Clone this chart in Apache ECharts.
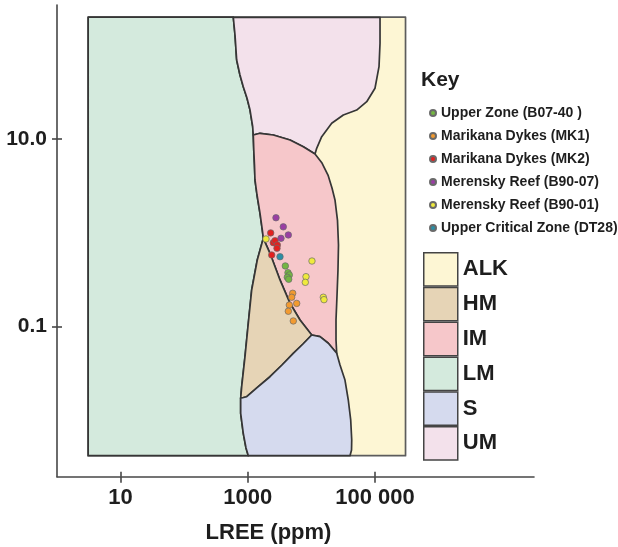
<!DOCTYPE html>
<html>
<head>
<meta charset="utf-8">
<title>Sr/Y vs LREE discrimination diagram</title>
<script src="https://cdn.jsdelivr.net/npm/echarts@6/dist/echarts.min.js"></script>
<style>
  html, body { margin: 0; padding: 0; background: #ffffff; }
  #chart { width: 618px; height: 547px; }
</style>
</head>
<body>
<div id="chart"></div>
<script>
// ---- Axis ticks (raw values) and their printed labels ----
const lreeTicks = [10, 1000, 100000];
const lreeTickLabels = ['10', '1000', '100 000'];
const sryTicks = [0.1, 10];
const sryTickLabels = ['0.1', '10.0'];

// ---- Samples: [LREE (ppm), Sr/Y] ----
const upperZoneB0740 = [[3890, 0.444], [4285, 0.376], [4490, 0.356], [4180, 0.336], [4395, 0.320]];
const marikanaMK1 = [[5082, 0.227], [4898, 0.206], [5873, 0.177], [4490, 0.170], [4335, 0.146], [5190, 0.115]];
const marikanaMK2 = [[2291, 1.0], [2518, 0.786], [2679, 0.826], [2911, 0.743], [2878, 0.685], [2377, 0.581]];
const merenskyB9007 = [[2773, 1.45], [3614, 1.16], [4335, 0.95], [3327, 0.875]];
const merenskyB9001 = [[1932, 0.861], [10210, 0.501], [8222, 0.341], [8020, 0.297], [15390, 0.206], [15780, 0.194]];
const upperCriticalDT28 = [[3208, 0.557]];

// ---- Field outlines, vertices as [log10 LREE, log10 Sr/Y] ----
const plotFrame = [[0.49, 2.30], [5.48, 2.30], [5.48, -2.376], [0.49, -2.376]];
const lmField = [
  [0.49, 2.30], [2.772, 2.30], [2.799, 2.110], [2.825, 1.844], [2.877, 1.684], [2.929, 1.559],
  [2.987, 1.438], [3.035, 1.310], [3.077, 1.132], [3.086, 1.044], [3.094, 0.884], [3.105, 0.724],
  [3.113, 0.564], [3.145, 0.404], [3.192, 0.209], [3.228, 0.031], [3.244, -0.058], [3.149, -0.289],
  [3.061, -0.609], [3.008, -0.964], [2.956, -1.320], [2.904, -1.640], [2.888, -1.764], [2.888, -1.924],
  [2.929, -2.137], [2.972, -2.294], [3.008, -2.376], [0.49, -2.376]
];
const umField = [
  [2.772, 2.299], [5.079, 2.299], [5.079, 2.022], [5.063, 1.772], [5.0, 1.542], [4.870, 1.399],
  [4.712, 1.310], [4.502, 1.257], [4.319, 1.169], [4.162, 1.026], [4.083, 0.902], [4.057, 0.841],
  [3.873, 0.919], [3.664, 0.990], [3.401, 1.044], [3.192, 1.062], [3.086, 1.044], [3.077, 1.132],
  [3.035, 1.310], [2.987, 1.438], [2.929, 1.559], [2.877, 1.684], [2.825, 1.844], [2.799, 2.110]
];
const imField = [
  [3.086, 1.044], [3.192, 1.062], [3.401, 1.044], [3.664, 0.990], [3.873, 0.919], [4.057, 0.841],
  [4.167, 0.745], [4.261, 0.617], [4.324, 0.479], [4.371, 0.351], [4.410, 0.137], [4.426, -0.129],
  [4.418, -0.396], [4.403, -0.662], [4.387, -0.929], [4.387, -1.142], [4.398, -1.284], [4.266, -1.177],
  [4.135, -1.107], [4.005, -1.089], [3.821, -0.929], [3.664, -0.751], [3.506, -0.502], [3.349, -0.218],
  [3.244, -0.058], [3.228, 0.031], [3.192, 0.209], [3.145, 0.404], [3.113, 0.564], [3.105, 0.724],
  [3.094, 0.884]
];
const hmField = [
  [3.244, -0.058], [3.349, -0.218], [3.506, -0.502], [3.664, -0.751], [3.821, -0.929], [4.005, -1.089],
  [3.868, -1.185], [3.715, -1.284], [3.538, -1.409], [3.349, -1.534], [3.160, -1.643], [2.983, -1.747],
  [2.888, -1.764], [2.904, -1.640], [2.956, -1.320], [3.008, -0.964], [3.061, -0.609], [3.149, -0.289]
];
const sField = [
  [2.888, -1.764], [2.983, -1.747], [3.160, -1.643], [3.349, -1.534], [3.538, -1.409], [3.715, -1.284],
  [3.868, -1.185], [4.005, -1.089], [4.135, -1.107], [4.266, -1.177], [4.398, -1.284], [4.450, -1.409],
  [4.528, -1.569], [4.580, -1.782], [4.618, -1.995], [4.634, -2.209], [4.631, -2.315], [4.607, -2.376],
  [3.008, -2.376], [2.972, -2.294], [2.929, -2.137], [2.888, -1.924]
];

const FONT = "'Liberation Sans', Arial, Helvetica, sans-serif";
const EDGE = '#363636';
const TEXT = '#1e1e1e';

const fieldColors = {
  ALK: '#fdf6d4',
  HM: '#e6d4b6',
  IM: '#f6c7ca',
  LM: '#d4eadd',
  S: '#d5daee',
  UM: '#f3e1eb'
};

function toLog(pairs) {
  return pairs.map(p => [Math.log10(p[0]), Math.log10(p[1])]);
}

function tickLabel(ticks, labels) {
  return function (v) {
    for (let i = 0; i < ticks.length; i++) {
      if (Math.abs(Math.log10(ticks[i]) - v) < 1e-6) return labels[i];
    }
    return '';
  };
}

function fieldSeries(name, outline, stroke, z) {
  const fill = fieldColors[name];
  return {
    type: 'custom',
    name: name,
    coordinateSystem: 'cartesian2d',
    silent: true,
    z: z,
    itemStyle: { color: fill, borderColor: '#444', borderWidth: 1.5 },
    data: outline,
    renderItem: function (params, api) {
      if (params.dataIndex !== 0) return null;
      return {
        type: 'polygon',
        shape: { points: outline.map(p => api.coord(p)) },
        style: { fill: fill, stroke: stroke, lineWidth: 1.7, lineJoin: 'round' }
      };
    }
  };
}

function sampleSeries(name, values, color) {
  return {
    type: 'scatter',
    name: name,
    z: 5,
    symbol: 'circle',
    symbolSize: 6.5,
    itemStyle: { color: color, borderColor: '#6a6a6a', borderWidth: 0.7, opacity: 1 },
    data: toLog(values)
  };
}

const lreeTickPos = lreeTicks.map(Math.log10);
const sryTickPos = sryTicks.map(Math.log10);

const axisLineStyle = { color: '#474747', width: 1.6 };

const chart = echarts.init(document.getElementById('chart'), null, { renderer: 'canvas' });

chart.setOption({
  animation: false,
  backgroundColor: '#ffffff',
  textStyle: { fontFamily: FONT },
  title: {
    text: 'Key',
    left: 421,
    top: 70,
    padding: 0,
    textStyle: { fontFamily: FONT, fontSize: 21, fontWeight: 'bold', color: TEXT }
  },
  grid: {
    left: 57, right: 84, top: 5, bottom: 70.3,
    containLabel: false,
    outerBoundsMode: 'none'
  },
  xAxis: [
    {
      type: 'value', min: 0, max: 7.5,
      position: 'bottom',
      name: 'LREE (ppm)',
      nameLocation: 'middle',
      nameGap: 45,
      nameTextStyle: {
        fontFamily: FONT, fontSize: 22, fontWeight: 'bold', color: TEXT,
        padding: [0, 54, 0, 0]
      },
      axisLine: { show: true, onZero: false, lineStyle: axisLineStyle },
      axisTick: { show: true, length: 6, customValues: lreeTickPos, lineStyle: axisLineStyle },
      axisLabel: {
        show: true, margin: 10, customValues: lreeTickPos,
        formatter: tickLabel(lreeTicks, lreeTickLabels),
        fontFamily: FONT, fontSize: 22, fontWeight: 'bold', color: TEXT
      },
      splitLine: { show: false }
    },
    {
      type: 'value', min: 0, max: 7.5,
      position: 'bottom', offset: 0,
      axisLine: { show: false, onZero: false },
      axisTick: { show: true, inside: true, length: 5, customValues: lreeTickPos, lineStyle: axisLineStyle },
      axisLabel: { show: false },
      splitLine: { show: false }
    }
  ],
  yAxis: [
    {
      type: 'value', min: -2.6, max: 2.43,
      position: 'left',
      name: 'Sr/Y',
      nameLocation: 'middle',
      nameRotate: 90,
      nameGap: 15,
      nameTextStyle: {
        fontFamily: FONT, fontSize: 21, fontWeight: 'bold', color: TEXT,
        padding: [0, 0, 0, 8]
      },
      axisLine: { show: true, onZero: false, lineStyle: axisLineStyle },
      axisTick: { show: true, length: 5, customValues: sryTickPos, lineStyle: axisLineStyle },
      axisLabel: {
        show: true, margin: 10, customValues: sryTickPos,
        formatter: tickLabel(sryTicks, sryTickLabels),
        fontFamily: FONT, fontSize: 21, fontWeight: 'bold', color: TEXT
      },
      splitLine: { show: false }
    },
    {
      type: 'value', min: -2.6, max: 2.43,
      position: 'left', offset: 0,
      axisLine: { show: false, onZero: false },
      axisTick: { show: true, inside: true, length: 5, customValues: sryTickPos, lineStyle: axisLineStyle },
      axisLabel: { show: false },
      splitLine: { show: false }
    }
  ],
  legend: [
    {
      orient: 'vertical',
      left: 429,
      top: 106,
      padding: 0,
      itemWidth: 6,
      itemHeight: 6,
      itemGap: 9,
      itemTextGap: 3,
      icon: 'circle',
      textStyle: { fontFamily: FONT, fontSize: 14, fontWeight: 'bold', color: TEXT },
      data: [
        'Upper Zone (B07-40 )',
        'Marikana Dykes (MK1)',
        'Marikana Dykes (MK2)',
        'Merensky Reef (B90-07)',
        'Merensky Reef (B90-01)',
        'Upper Critical Zone (DT28)'
      ]
    },
    {
      orient: 'vertical',
      left: 423,
      top: 252,
      padding: 0,
      itemWidth: 34,
      itemHeight: 33.3,
      itemGap: 0,
      itemTextGap: 14,
      icon: 'rect',
      itemStyle: { borderColor: '#444', borderWidth: 1.5 },
      textStyle: { fontFamily: FONT, fontSize: 22, fontWeight: 'bold', color: TEXT },
      data: ['ALK', 'HM', 'IM', 'LM', 'S', 'UM']
    }
  ],
  series: [
    fieldSeries('ALK', plotFrame, '#5c5c5c', 1),
    fieldSeries('LM', lmField, EDGE, 1),
    fieldSeries('UM', umField, EDGE, 1),
    fieldSeries('IM', imField, EDGE, 1),
    fieldSeries('HM', hmField, EDGE, 1),
    fieldSeries('S', sField, EDGE, 1),
    sampleSeries('Upper Zone (B07-40 )', upperZoneB0740, '#74b642'),
    sampleSeries('Marikana Dykes (MK1)', marikanaMK1, '#f29a30'),
    sampleSeries('Marikana Dykes (MK2)', marikanaMK2, '#e2201f'),
    sampleSeries('Merensky Reef (B90-07)', merenskyB9007, '#9a3ea3'),
    sampleSeries('Merensky Reef (B90-01)', merenskyB9001, '#efea3c'),
    sampleSeries('Upper Critical Zone (DT28)', upperCriticalDT28, '#2b8ea5')
  ]
});
</script>
</body>
</html>
